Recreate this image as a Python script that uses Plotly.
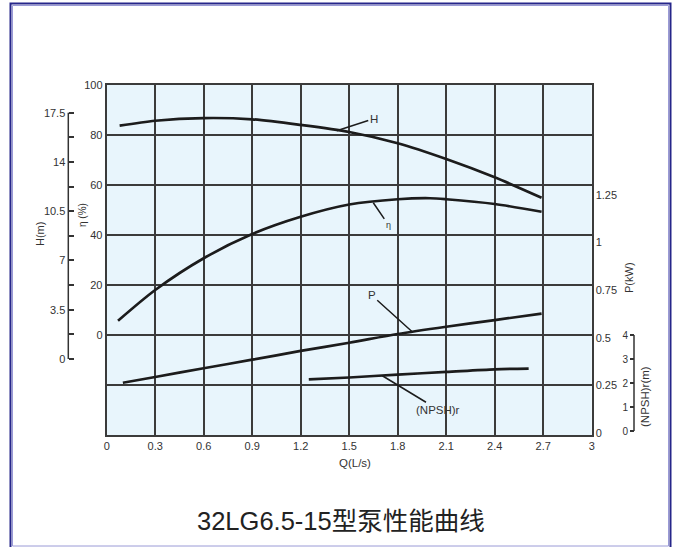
import plotly.graph_objects as go

# ---------------- data ----------------
Q_ticks = [0, 0.3, 0.6, 0.9, 1.2, 1.5, 1.8, 2.1, 2.4, 2.7, 3]
Q_ticktext = ["0", "0.3", "0.6", "0.9", "1.2", "1.5", "1.8", "2.1", "2.4", "2.7", "3"]

eta_ticks = [-40, -20, 0, 20, 40, 60, 80, 100]
eta_ticktext = ["", "", "0", "20", "40", "60", "80", "100"]

H_ticks = [0, 1.75, 3.5, 5.25, 7, 8.75, 10.5, 12.25, 14, 15.75, 17.5]
H_ticktext = ["0", "", "3.5", "", "7", "", "10.5", "", "14", "", "17.5"]

P_ticks = [0, 0.25, 0.5, 0.75, 1, 1.25]
P_ticktext = ["0", "0.25", "0.5", "0.75", "1", "1.25"]

N_ticks = [0, 1, 2, 3, 4]
N_ticktext = ["0", "1", "2", "3", "4"]

# H-Q curve (m)
Q_H = [0.08, 0.3, 0.6, 0.9, 1.2, 1.5, 1.8, 2.1, 2.4, 2.69]
H_m = [16.58, 16.93, 17.12, 17.03, 16.63, 16.13, 15.33, 14.21, 12.91, 11.46]

# efficiency curve (%)
Q_eta = [0.07, 0.3, 0.6, 0.9, 1.2, 1.5, 1.8, 2.0, 2.1, 2.4, 2.69]
eta = [5.7, 18.0, 30.7, 40.4, 47.3, 52.2, 54.3, 54.7, 54.3, 52.4, 49.3]

# shaft power curve (kW)
Q_P = [0.1, 0.3, 0.6, 0.9, 1.2, 1.5, 1.8, 2.1, 2.4, 2.69]
P_kw = [0.264, 0.294, 0.340, 0.385, 0.431, 0.474, 0.520, 0.558, 0.593, 0.627]

# NPSHr curve (m)
Q_N = [1.25, 1.5, 1.8, 2.1, 2.4, 2.61]
NPSH = [2.15, 2.23, 2.35, 2.46, 2.57, 2.60]

title_text = "32LG6.5-15型泵性能曲线"

# ---------------- layout geometry ----------------
W, HT = 677, 547
ML, MR, MT, MB = 30, 20, 85, 112
PW = W - ML - MR
PH = HT - MT - MB


def px_x(px):
    return (px - ML) / PW


def px_y(py):
    return (HT - MB - py) / PH


FONT = "Liberation Sans, Arial, sans-serif"
GRID = "#3b3b3b"
TXT = "#333333"
CURVE = "#1c1c1c"
NPSH_X = 634

fig = go.Figure()
line_style = dict(color=CURVE, width=2.7, shape="spline", smoothing=0.8)
fig.add_trace(go.Scatter(x=Q_H, y=H_m, yaxis="y2", mode="lines", line=line_style, hoverinfo="skip"))
fig.add_trace(go.Scatter(x=Q_eta, y=eta, yaxis="y", mode="lines", line=line_style, hoverinfo="skip"))
fig.add_trace(go.Scatter(x=Q_P, y=P_kw, yaxis="y3", mode="lines", line=line_style, hoverinfo="skip"))
fig.add_trace(go.Scatter(x=Q_N, y=NPSH, yaxis="y4", mode="lines", line=line_style, hoverinfo="skip"))

fig.update_layout(
    width=W, height=HT,
    margin=dict(l=ML, r=MR, t=MT, b=MB),
    paper_bgcolor="white",
    plot_bgcolor="#E8F5FC",
    showlegend=False,
    font=dict(family=FONT, size=11, color=TXT),
    xaxis=dict(
        domain=[px_x(106.7), px_x(591.7)], range=[0, 3],
        tickvals=Q_ticks, ticktext=Q_ticktext, ticks="",
        showgrid=True, gridcolor=GRID, gridwidth=2,
        showline=True, linecolor=GRID, linewidth=2, mirror=True,
        zeroline=False, tickfont=dict(size=11, color=TXT),
    ),
    yaxis=dict(
        range=[-40, 100], tickvals=eta_ticks, ticktext=eta_ticktext, ticks="",
        showgrid=True, gridcolor=GRID, gridwidth=2,
        showline=True, linecolor=GRID, linewidth=2, mirror=True,
        zeroline=False, tickfont=dict(size=11, color=TXT),
    ),
    yaxis2=dict(
        overlaying="y", anchor="free", position=px_x(68.3), side="left",
        range=[-5.400, 19.468], tickvals=H_ticks, ticktext=H_ticktext,
        ticks="inside", ticklen=5, tickwidth=1.5, tickcolor=TXT,
        ticklabelstandoff=3,
        showgrid=False, showline=False, zeroline=False,
        tickfont=dict(size=11, color=TXT),
    ),
    yaxis3=dict(
        overlaying="y", anchor="x", side="right",
        range=[-0.0105, 1.8277], tickvals=P_ticks, ticktext=P_ticktext,
        ticks="", ticklabelstandoff=3,
        showgrid=False, showline=False, zeroline=False,
        tickfont=dict(size=11, color=TXT),
    ),
    yaxis4=dict(
        overlaying="y", anchor="free", position=px_x(NPSH_X), side="left",
        range=[-0.1667, 14.4167], tickvals=N_ticks, ticktext=N_ticktext,
        ticks="outside", ticklen=4, tickwidth=1.5, tickcolor=TXT,
        showgrid=False, showline=False, zeroline=False,
        tickfont=dict(size=10, color=TXT),
    ),
)

shapes = [
    # outer frame
    dict(type="rect", xref="paper", yref="paper",
         x0=px_x(10.5), x1=px_x(670.5), y0=px_y(549), y1=px_y(3.5),
         line=dict(color="#26268a", width=2), fillcolor="rgba(0,0,0,0)"),
    dict(type="rect", xref="paper", yref="paper",
         x0=px_x(12.5), x1=px_x(668.5), y0=px_y(546), y1=px_y(5.5),
         line=dict(color="#9a9ad6", width=1), fillcolor="rgba(0,0,0,0)"),
    # axis brackets for H and NPSH
    dict(type="line", xref="paper", yref="y2", x0=px_x(68.3), x1=px_x(68.3),
         y0=H_ticks[0], y1=H_ticks[-1], line=dict(color=TXT, width=1.5)),
    dict(type="line", xref="paper", yref="y4", x0=px_x(NPSH_X), x1=px_x(NPSH_X),
         y0=N_ticks[0], y1=N_ticks[-1], line=dict(color=TXT, width=1.5)),
]
fig.update_layout(shapes=shapes)

ctr = dict(xanchor="center", yanchor="middle", showarrow=False, xref="paper", yref="paper")
ann = []
# axis titles
ann.append(dict(x=px_x(40), y=px_y(234), text="H(m)", textangle=-90,
                font=dict(size=11, color=TXT), **ctr))
ann.append(dict(x=px_x(82), y=px_y(215), text="η (%)", textangle=-90,
                font=dict(size=10, color=TXT), **ctr))
ann.append(dict(x=px_x(629), y=px_y(278), text="P(kW)", textangle=-90,
                font=dict(size=11, color=TXT), **ctr))
ann.append(dict(x=px_x(645), y=px_y(397), text="(NPSH)r(m)", textangle=-90,
                font=dict(size=11.5, color=TXT), **ctr))
ann.append(dict(x=px_x(355), y=px_y(463), text="Q(L/s)",
                font=dict(size=11.5, color=TXT), **ctr))
# chart title
ann.append(dict(x=px_x(341), y=px_y(521), text=title_text,
                font=dict(size=25.5, color="#222222",
                          family="Liberation Sans, Noto Sans CJK SC, sans-serif"), **ctr))
# curve labels with leader lines
lead = dict(showarrow=True, arrowhead=0, arrowwidth=1.5, arrowcolor=CURVE,
            xref="x", yref="y")
ann.append(dict(x=1.423, y=81.7, ax=37, ay=-12, text="H",
                font=dict(size=11.5, color=TXT), **lead))
ann.append(dict(x=1.649, y=52.9, ax=15, ay=22, text="η",
                font=dict(size=9, color=TXT), **lead))
ann.append(dict(x=1.893, y=1.1, ax=-41, ay=-37, text="P",
                font=dict(size=11.5, color=TXT), **lead))
ann.append(dict(x=1.705, y=-16.3, ax=56, ay=34, text="(NPSH)r",
                font=dict(size=11.5, color=TXT), **lead))
fig.update_layout(annotations=ann)

fig.write_html(
    "out.html",
    config={"displayModeBar": False},
    post_script="document.documentElement.style.margin='0';"
                "document.body.style.margin='0';document.body.style.padding='0';",
)
